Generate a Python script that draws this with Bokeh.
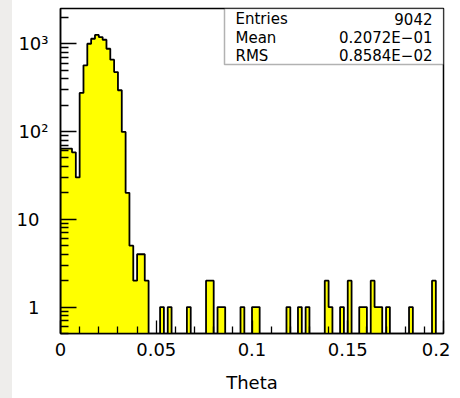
import numpy as np
from bokeh.plotting import figure
from bokeh.layouts import row
from bokeh.models import FixedTicker, BoxAnnotation, Label, Div
from bokeh.embed import file_html
from bokeh.resources import INLINE

# ---- data -------------------------------------------------------------
x_min, x_max, n_bins = 0.0, 0.2, 100
counts = [64, 64, 64, 58, 30, 275, 567, 1000, 1140, 1260,
          1190, 1110, 877, 658, 476, 295, 99, 20, 5, 2,
          4, 4, 2, 0, 0, 0, 1, 0, 1, 0,
          0, 0, 0, 1, 0, 0, 0, 0, 2, 2,
          0, 1, 1, 0, 0, 0, 0, 1, 0, 0,
          1, 1, 0, 0, 0, 0, 0, 0, 0, 1,
          0, 0, 1, 0, 1, 0, 0, 0, 0, 2,
          1, 0, 0, 1, 0, 2, 0, 0, 1, 1,
          0, 2, 1, 1, 0, 1, 0, 0, 0, 0,
          0, 1, 0, 0, 0, 0, 0, 2, 0, 0]

x_ticks = [0, 0.05, 0.1, 0.15, 0.2]
x_tick_labels = ["0", "0.05", "0.1", "0.15", "0.2"]
y_ticks = [1, 10, 100, 1000]
y_tick_labels = ["1\u2002", "10\u2002", "10\u00b2", "10\u00b3"]
x_title = "Theta"

stat_names = ["Entries", "Mean", "RMS"]
stat_values = ["9042", "0.2072E\u221201", "0.8584E\u221202"]

# ---- derived ----------------------------------------------------------
c = np.array(counts, dtype=float)
edges = np.linspace(x_min, x_max, n_bins + 1)
y_lo, y_hi = 0.5, 2 * c.max()
base = 0.1

vals = np.where(c > 0, c, base)
xs = np.concatenate([[edges[0]], np.repeat(edges, 2)[1:-1], [edges[-1]]])
ys = np.concatenate([[base], np.repeat(vals, 2), [base]])

p = figure(width=438, height=398, output_backend="svg", toolbar_location=None,
           x_range=(x_min, x_max), y_range=(y_lo, y_hi), y_axis_type="log",
           min_border_left=48, min_border_right=7, min_border_top=8,
           min_border_bottom=65, background_fill_color="white",
           border_fill_color="white")
p.grid.visible = False
p.outline_line_color = "black"
p.outline_line_width = 1.5

p.patch(xs, ys, fill_color="#ffff00", line_color=None)
p.line(xs, ys, line_color="black", line_width=1.8)

# axes
minor_x = [round(0.01 * i, 3) for i in range(1, 20) if i % 5 != 0]
p.xaxis.ticker = FixedTicker(ticks=x_ticks, minor_ticks=minor_x)
p.xaxis.major_label_overrides = {t: l for t, l in zip(x_ticks, x_tick_labels)}
minor_y = [m * 10.0 ** e for e in range(-1, 4) for m in range(2, 10)
           if y_lo <= m * 10.0 ** e <= y_hi]
p.yaxis.ticker = FixedTicker(ticks=y_ticks, minor_ticks=minor_y)
p.yaxis.major_label_overrides = {t: l for t, l in zip(y_ticks, y_tick_labels)}

for ax in (p.xaxis[0], p.yaxis[0]):
    ax.axis_line_color = "black"
    ax.axis_line_width = 1.5
    ax.major_tick_line_color = "black"
    ax.minor_tick_line_color = "black"
    ax.major_tick_line_width = 1.3
    ax.minor_tick_line_width = 1.3
    ax.major_tick_out = 0
    ax.minor_tick_out = 0
    ax.major_label_text_font = "DejaVu Sans"
    ax.major_label_text_font_size = "18px"
    ax.major_label_text_color = "black"

p.xaxis.major_tick_in = 13
p.xaxis.minor_tick_in = 7
p.xaxis.major_label_standoff = 9
p.yaxis.major_tick_in = 16
p.yaxis.minor_tick_in = 8
p.yaxis.major_label_standoff = 12

p.xaxis.axis_label = x_title
p.xaxis.axis_label_text_font = "DejaVu Sans"
p.xaxis.axis_label_text_font_size = "18px"
p.xaxis.axis_label_text_font_style = "normal"
p.xaxis.axis_label_text_color = "black"
p.xaxis.axis_label_standoff = 13

# statistics box (screen units, relative to the plot frame)
box = BoxAnnotation(left=164, right=383, bottom=269, top=325,
                    left_units="screen", right_units="screen",
                    top_units="screen", bottom_units="screen",
                    fill_color="white", fill_alpha=1.0,
                    line_color="black", line_width=1.5)
p.add_layout(box)
row_y = [315, 296, 278]
for name, val, yy in zip(stat_names, stat_values, row_y):
    p.add_layout(Label(x=175, y=yy, x_units="screen", y_units="screen",
                       text=name, text_align="left", text_baseline="middle",
                       text_font="DejaVu Sans", text_font_size="15px",
                       text_color="black"))
    p.add_layout(Label(x=372, y=yy, x_units="screen", y_units="screen",
                       text=val, text_align="right", text_baseline="middle",
                       text_font="DejaVu Sans", text_font_size="15px",
                       text_color="black"))

strip = Div(text="", width=12, height=398, margin=0,
            styles={"background-color": "#eeedeb"})
layout = row(strip, p, spacing=0)

open("out.html", "w").write(file_html(layout, INLINE))
